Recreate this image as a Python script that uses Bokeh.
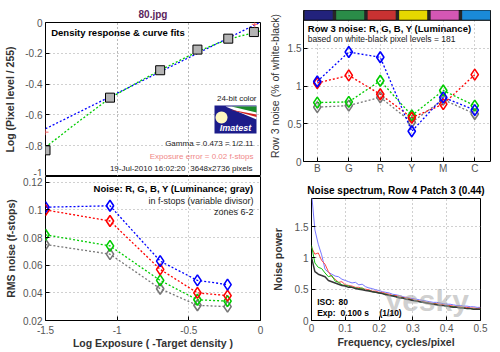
from bokeh.plotting import figure
from bokeh.layouts import column, row
from bokeh.models import Label, FixedTicker, Span, BoxAnnotation, PolyAnnotation, Grid, Title
from bokeh.embed import file_html
from bokeh.resources import INLINE
import math

FONT = "Liberation Sans"

# ---------------- data ----------------
# Density response (top-left)
density_x = [-1.5, -1.05, -0.70, -0.44, -0.225, -0.046]
density_y = [-0.83, -0.488, -0.31, -0.176, -0.105, -0.062]
fit_lin_x = [-1.5, 0.0]
fit_lin_y = [-0.69, 0.003]
fit_curve_x = [-1.5, -1.3, -1.05, -0.85, -0.70, -0.55, -0.44, -0.30, -0.15, 0.0]
fit_curve_y = [-0.81, -0.665, -0.49, -0.385, -0.31, -0.24, -0.19, -0.135, -0.09, -0.055]
plus_x = [-1.5, -0.04]
plus_y = [-0.712, -0.012]

# Row 3 noise (top-right)
cats = ["B", "G", "R", "Y", "M", "C"]
bar_colors = ["#22227c", "#2a8c48", "#c83232", "#e6d800", "#d457b4", "#1a8ad8"]
r3_blue = [1.06, 1.45, 1.38, 0.40, 0.85, 0.68]
r3_red = [1.04, 1.14, 0.89, 0.58, 0.76, 1.15]
r3_green = [0.78, 0.79, 1.07, 0.61, 0.94, 0.74]
r3_gray = [0.72, 0.74, 0.85, 0.52, 0.82, 0.63]

# RMS noise in f-stops (bottom-left)
zone_x = [-1.5, -1.05, -0.70, -0.44, -0.23]
rms_blue = [0.102, 0.103, 0.063, 0.049, 0.046]
rms_red = [0.100, 0.092, 0.057, 0.040, 0.038]
rms_green = [0.082, 0.074, 0.049, 0.035, 0.034]
rms_gray = [0.075, 0.068, 0.043, 0.031, 0.030]

# Noise spectrum (bottom-right)
freq = [0.00, 0.01, 0.02, 0.03, 0.04, 0.05, 0.06, 0.07, 0.08, 0.09,
        0.10, 0.11, 0.12, 0.13, 0.14, 0.15, 0.16, 0.17, 0.18, 0.19,
        0.20, 0.21, 0.22, 0.23, 0.24, 0.25, 0.26, 0.27, 0.28, 0.29,
        0.30, 0.31, 0.32, 0.33, 0.34, 0.35, 0.36, 0.37, 0.38, 0.39,
        0.40, 0.41, 0.42, 0.43, 0.44, 0.45, 0.46, 0.47, 0.48, 0.49, 0.50]
spec_blue = [2.05, 1.45, 1.22, 1.05, 0.82, 0.77, 0.74, 0.71, 0.70, 0.66,
             0.64, 0.62, 0.60, 0.61, 0.57, 0.58, 0.54, 0.52, 0.51, 0.49,
             0.48, 0.46, 0.45, 0.44, 0.42, 0.41, 0.40, 0.38, 0.37, 0.36,
             0.35, 0.34, 0.33, 0.32, 0.31, 0.30, 0.29, 0.29, 0.28, 0.27,
             0.26, 0.26, 0.25, 0.24, 0.24, 0.23, 0.23, 0.22, 0.22, 0.21, 0.21]
spec_red = [1.17, 1.06, 1.08, 0.96, 0.90, 0.78, 0.70, 0.66, 0.61, 0.62,
            0.57, 0.56, 0.55, 0.53, 0.53, 0.51, 0.50, 0.49, 0.47, 0.47,
            0.45, 0.45, 0.43, 0.42, 0.40, 0.40, 0.38, 0.37, 0.36, 0.35,
            0.33, 0.32, 0.31, 0.30, 0.29, 0.28, 0.27, 0.27, 0.26, 0.25,
            0.24, 0.24, 0.23, 0.22, 0.22, 0.21, 0.21, 0.20, 0.20, 0.19, 0.20]
spec_green = [1.20, 0.92, 0.85, 0.83, 0.76, 0.70, 0.72, 0.63, 0.61, 0.57,
              0.56, 0.55, 0.53, 0.52, 0.51, 0.52, 0.48, 0.48, 0.46, 0.45,
              0.44, 0.43, 0.42, 0.40, 0.40, 0.38, 0.37, 0.36, 0.34, 0.34,
              0.32, 0.31, 0.30, 0.29, 0.28, 0.27, 0.26, 0.26, 0.24, 0.24,
              0.23, 0.22, 0.22, 0.21, 0.21, 0.20, 0.19, 0.19, 0.18, 0.18, 0.18]
spec_gray = [1.01, 0.78, 0.74, 0.72, 0.70, 0.64, 0.62, 0.60, 0.58, 0.56,
             0.55, 0.53, 0.53, 0.51, 0.50, 0.49, 0.48, 0.47, 0.46, 0.45,
             0.44, 0.43, 0.41, 0.40, 0.39, 0.38, 0.36, 0.36, 0.34, 0.33,
             0.32, 0.31, 0.30, 0.29, 0.28, 0.27, 0.26, 0.25, 0.24, 0.24,
             0.23, 0.22, 0.21, 0.21, 0.20, 0.20, 0.19, 0.19, 0.18, 0.18, 0.18]

# tick values / labels
tl_yticks = [-1, -0.8, -0.6, -0.4, -0.2, 0]
tl_ylabels = ["-1", "-0.8", "-0.6", "-0.4", "-0.2", "0"]
exp_xticks = [-1.5, -1, -0.5, 0]
exp_xlabels = ["-1.5", "-1", "-0.5", "0"]
rms_yticks = [0.02, 0.04, 0.06, 0.08, 0.1, 0.12]
rms_ylabels = ["0.02", "0.04", "0.06", "0.08", "0.1", "0.12"]
r3_yticks = [0, 0.5, 1, 1.5]
r3_ylabels = ["0", "0.5", "1", "1.5"]
sp_xticks = [0, 0.1, 0.2, 0.3, 0.4, 0.5]
sp_xlabels = ["0", "0.1", "0.2", "0.3", "0.4", "0.5"]
sp_yticks = [0, 0.5, 1, 1.5]
sp_ylabels = ["0", "0.5", "1", "1.5"]

BLUE, RED, GREEN, GRAY = "#0000ff", "#ff0000", "#00cc00", "#777777"


def style(p, xticks, xlabels, yticks, ylabels, xlabel=None, ylabel=None):
    p.outline_line_color = "black"
    p.outline_line_width = 1
    p.outline_line_alpha = 1
    p.background_fill_color = "white"
    p.border_fill_color = "white"
    for g in p.xgrid:
        g.ticker = FixedTicker(ticks=xticks)
    for g in p.ygrid:
        g.ticker = FixedTicker(ticks=yticks)
    for g in list(p.xgrid) + list(p.ygrid):
        g.grid_line_color = "#a0a0a0"
        g.grid_line_dash = "1 3"
        g.grid_line_width = 1
    for ax in p.xaxis:
        ax.ticker = FixedTicker(ticks=xticks)
        ax.major_label_overrides = dict(zip(xticks, xlabels))
    for ax in p.yaxis:
        ax.ticker = FixedTicker(ticks=yticks)
        ax.major_label_overrides = dict(zip(yticks, ylabels))
    for ax in p.axis:
        ax.major_tick_in = 4
        ax.major_tick_out = 0
        ax.major_tick_line_color = "black"
        ax.minor_tick_line_color = None
        ax.axis_line_color = None
        ax.major_label_text_font = FONT
        ax.major_label_text_font_size = "10px"
        ax.major_label_text_color = "#555555"
        ax.axis_label_text_font = FONT
        ax.axis_label_text_font_size = "10.5px"
        ax.axis_label_text_font_style = "bold"
        ax.axis_label_text_color = "#333333"
    if xlabel:
        p.xaxis.axis_label = xlabel
    if ylabel:
        p.yaxis.axis_label = ylabel


ANCH = {"left": "center_left", "center": "center", "right": "center_right"}


def lab(p, x, y, text, size="8px", bold=False, color="#222222", align="left",
        italic=False, font=FONT, alpha=1.0):
    style_ = "bold" if bold else "normal"
    if italic:
        style_ = "bold italic" if bold else "italic"
    p.add_layout(Label(x=x, y=y, x_units="screen", y_units="screen", text=text,
                       text_font=font, text_font_size=size, text_font_style=style_,
                       text_color=color, text_align=align, text_baseline="middle",
                       anchor=ANCH[align], text_alpha=alpha))


def set_title(p, text, color, standoff):
    p.title = Title(text=text, align="center", text_font=FONT, text_font_size="10px",
                    text_font_style="bold", text_color=color, standoff=standoff, offset=0)


COMMON = dict(output_backend="svg", toolbar_location=None, frame_align=False)

# ---------------- top-left: density response ----------------
p1 = figure(width=265, height=176, x_range=(-1.5, 0), y_range=(-1, 0), x_axis_location=None,
            min_border_left=45, min_border_right=5, min_border_top=22, min_border_bottom=0,
            **COMMON)
p1.add_layout(Grid(dimension=0, ticker=FixedTicker(ticks=exp_xticks)))
style(p1, exp_xticks, exp_xlabels, tl_yticks, tl_ylabels, ylabel="Log (Pixel level / 255)")
p1.yaxis[0].major_label_standoff = 3
p1.yaxis[0].axis_label_standoff = 6
set_title(p1, "80.jpg", "#5c1f5c", 5)

p1.line(fit_lin_x, fit_lin_y, line_color=BLUE, line_dash="2 2", line_width=1.3)
p1.line(fit_curve_x, fit_curve_y, line_color=GREEN, line_dash="2 2", line_width=1.3)
p1.scatter(density_x, density_y, marker="square", size=9, fill_color="#b4b4b4",
           line_color="black", line_width=1)
p1.scatter(plus_x, plus_y, marker="cross", size=6, line_color="#ff6060", line_width=1)

# Imatest logo (screen coords relative to frame bottom-left)
p1.add_layout(BoxAnnotation(left=169, right=211, bottom=43, top=71,
                            left_units="screen", right_units="screen",
                            bottom_units="screen", top_units="screen",
                            fill_color="#1c1c8a", fill_alpha=1, line_color=None))
p1.add_layout(PolyAnnotation(xs=[180, 211, 211], ys=[70, 70, 57], xs_units="screen",
                             ys_units="screen", fill_color="white", fill_alpha=1, line_color=None))
p1.add_layout(PolyAnnotation(xs=[186, 211, 211], ys=[70, 70, 64], xs_units="screen",
                             ys_units="screen", fill_color="#1a8a2a", fill_alpha=1, line_color=None))
p1.add_layout(PolyAnnotation(xs=[184, 211, 211], ys=[67, 62, 59.5], xs_units="screen",
                             ys_units="screen", fill_color="#d02020", fill_alpha=1, line_color=None))
cx, cy, rr = 176, 59, 6
circ_x = [cx + rr * math.cos(2 * math.pi * k / 24) for k in range(24)]
circ_y = [cy + rr * math.sin(2 * math.pi * k / 24) for k in range(24)]
p1.add_layout(PolyAnnotation(xs=circ_x, ys=circ_y, xs_units="screen", ys_units="screen",
                             fill_color="#fff8c0", fill_alpha=1, line_color=None))
lab(p1, 190, 48.5, "Imatest", size="9px", bold=True, italic=True, color="white", align="center")

lab(p1, 5.7, 143.7, "Density response & curve fits", size="9.5px", bold=True, color="black")
lab(p1, 211, 77.7, "24-bit color", size="8px", align="right")
lab(p1, 208, 33.5, "Gamma = 0.473 = 1/2.11", size="8px", align="right")
lab(p1, 208, 20.3, "Exposure error = 0.02 f-stops", size="8px", color="#f08888", align="right")
lab(p1, 140, 8.3, "19-Jul-2010 16:02:20", size="8px", align="right")
lab(p1, 207, 8.3, "3648x2736 pixels", size="8px", align="right")

# ---------------- top-right: row 3 noise ----------------
xs_idx = list(range(1, len(cats) + 1))
p2 = figure(width=235, height=176, x_range=(0.5625, 6.5), y_range=(0, 2.0),
            min_border_left=35, min_border_right=10, min_border_top=10, min_border_bottom=13,
            **COMMON)
style(p2, xs_idx, cats, r3_yticks, r3_ylabels, ylabel="Row 3 noise (% of white-black)")
p2.yaxis[0].axis_label_text_font_style = "normal"
p2.yaxis[0].axis_label_standoff = 4
p2.xaxis[0].major_label_standoff = 1
p2.yaxis[0].major_label_standoff = 2

# colour bar strip
p2.quad(left=[0.0], right=[7.0], bottom=[1.871], top=[2.1], fill_color="#262626", line_color=None)
p2.quad(left=[i - 0.40 for i in xs_idx], right=[i + 0.49 for i in xs_idx],
        bottom=1.871, top=2.1, fill_color=bar_colors, line_color=None)
p2.add_layout(Span(location=1.871, dimension="width", line_color="black", line_width=1))

for ys, c in ((r3_gray, GRAY), (r3_green, GREEN), (r3_red, RED), (r3_blue, BLUE)):
    p2.line(xs_idx, ys, line_color=c, line_dash="2 2", line_width=1.3)
    p2.scatter(xs_idx, ys, marker="diamond", size=11, fill_color=None, line_color=c, line_width=1.6)

lab(p2, 4.3, 132.7, "Row 3 noise: R, G, B, Y (Luminance)", size="9.5px", bold=True, color="black")
lab(p2, 4.3, 122.7, "based on white-black pixel levels = 181", size="8.5px")

# ---------------- bottom-left: RMS noise ----------------
p3 = figure(width=265, height=176, x_range=(-1.5, 0), y_range=(0.02, 0.1242),
            min_border_left=45, min_border_right=5, min_border_top=0, min_border_bottom=32,
            **COMMON)
style(p3, exp_xticks, exp_xlabels, rms_yticks, rms_ylabels,
      xlabel="Log Exposure ( -Target density )", ylabel="RMS noise (f-stops)")
p3.xaxis[0].major_label_standoff = 5
p3.xaxis[0].axis_label_standoff = 0
p3.yaxis[0].major_label_standoff = 3
p3.yaxis[0].axis_label_standoff = 3

for ys, c in ((rms_gray, GRAY), (rms_green, GREEN), (rms_red, RED), (rms_blue, BLUE)):
    p3.line(zone_x, ys, line_color=c, line_dash="2 2", line_width=1.3)
    p3.scatter(zone_x, ys, marker="diamond", size=11, fill_color=None, line_color=c, line_width=1.6)

lab(p3, 208, 131.7, "Noise: R, G, B, Y (Luminance; gray)", size="9.5px", bold=True,
    color="black", align="right")
lab(p3, 208, 119.3, "in f-stops (variable divisor)", size="9px", align="right")
lab(p3, 208, 108.3, "zones 6-2", size="9px", align="right")

# ---------------- bottom-right: noise spectrum ----------------
p4 = figure(width=235, height=176, x_range=(0, 0.5), y_range=(0, 1.95),
            min_border_left=46, min_border_right=20, min_border_top=22, min_border_bottom=32,
            **COMMON)
style(p4, sp_xticks, sp_xlabels, sp_yticks, sp_ylabels,
      xlabel="Frequency, cycles/pixel", ylabel="Noise power")
p4.xaxis[0].major_label_standoff = 3
p4.xaxis[0].axis_label_standoff = 1
p4.yaxis[0].major_label_standoff = 3
p4.yaxis[0].axis_label_standoff = 8
set_title(p4, "Noise spectrum, Row 4 Patch 3 (0.44)", "black", 6)

p4.line(freq, spec_blue, line_color="#7878ff", line_width=1)
p4.line(freq, spec_red, line_color="#ff4848", line_width=1)
p4.line(freq, spec_green, line_color="#10c010", line_width=1)
p4.line(freq, spec_gray, line_color="#383838", line_width=1.5)

lab(p4, 74, 20, "yesky", size="30px", bold=True, color="#a8a8a8", alpha=0.55)
lab(p4, 5.7, 19, "ISO:", size="8.5px", bold=True, color="black")
lab(p4, 27, 19, "80", size="8.5px", bold=True, color="black")
lab(p4, 5.7, 7.7, "Exp:", size="8.5px", bold=True, color="black")
lab(p4, 29, 7.7, "0.100 s", size="8.5px", bold=True, color="black")
lab(p4, 68, 7.7, "(1/10)", size="8.5px", bold=True, color="black")

layout = column(row(p1, p2), row(p3, p4))
open("out.html", "w").write(file_html(layout, INLINE))
